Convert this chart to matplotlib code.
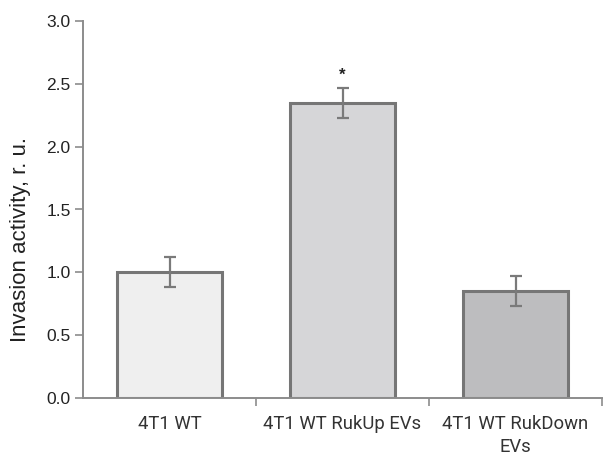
import matplotlib
matplotlib.use("Agg")
import matplotlib.pyplot as plt

# Data
categories = ["4T1 WT", "4T1 WT RukUp EVs", "4T1 WT RukDown\nEVs"]
values = [1.00, 2.35, 0.85]
errors = [0.12, 0.12, 0.12]
bar_colors = ["#efefef", "#d6d6d8", "#bdbdbf"]
signif = ["", "*", ""]
y_ticks = [0.0, 0.5, 1.0, 1.5, 2.0, 2.5, 3.0]

plt.rcParams["font.family"] = ["Liberation Sans", "DejaVu Sans"]

fig = plt.figure(figsize=(6.11, 4.61), dpi=100)
ax = fig.add_axes([83 / 611, 1 - 398 / 461, (602 - 83) / 611, (398 - 21) / 461])

axis_col = "#8c8c8c"
x = list(range(len(categories)))
ax.bar(x, values, width=0.61, color=bar_colors, edgecolor="#767676",
       linewidth=2.2, zorder=2)
ax.errorbar(x, values, yerr=errors, fmt="none", ecolor="#7a7a7a",
            elinewidth=1.6, capsize=4, capthick=1.6, zorder=3)
for xi, v, e, s in zip(x, values, errors, signif):
    if s:
        ax.text(xi, v + e + 0.04, s, ha="center", va="bottom", fontsize=12,
                color="#222222", fontweight="bold")

ax.set_xlim(-0.5, 2.5)
ax.set_ylim(0, 3.0)
ax.set_yticks(y_ticks)
ax.set_yticklabels([f"{t:.1f}" for t in y_ticks], fontsize=12.5, color="#222222")
ax.set_xticks(x)
ax.set_xticklabels(categories, fontsize=13.3, color="#333333",
                   family=["Roboto", "Liberation Sans"],
                   linespacing=1.35)
ax.set_xticks([0.5, 1.5, 2.5], minor=True)
ax.tick_params(axis="x", which="major", length=0, pad=12)
ax.tick_params(axis="x", which="minor", length=6, width=1.2, color=axis_col,
               direction="out")
ax.tick_params(axis="y", length=6, width=1.2, color=axis_col, direction="out",
               pad=3)
ax.set_ylabel("Invasion activity, r. u.", fontsize=16, color="#222222")
ax.yaxis.set_label_coords(-0.100, 0.42)

for side in ["top", "right"]:
    ax.spines[side].set_visible(False)
for side in ["left", "bottom"]:
    ax.spines[side].set_color(axis_col)
    ax.spines[side].set_linewidth(1.4)

fig.savefig("out.png", dpi=100)
